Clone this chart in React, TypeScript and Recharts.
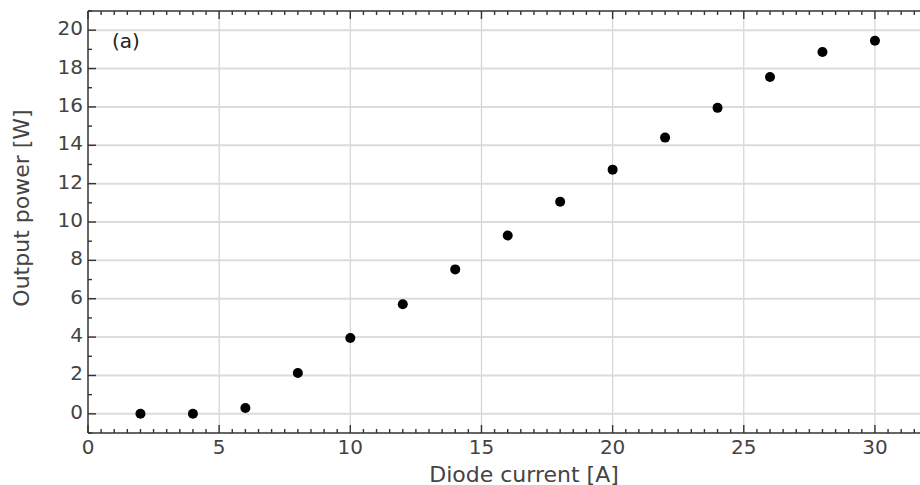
import React from "react";
import { ScatterChart, Scatter, XAxis, YAxis, ReferenceLine } from "recharts";

// diode current [A] vs output power [W]
const current = [2, 4, 6, 8, 10, 12, 14, 16, 18, 20, 22, 24, 26, 28, 30];
const power = [0, 0, 0.3, 2.13, 3.95, 5.71, 7.53, 9.3, 11.06, 12.73, 14.4, 15.95, 17.56, 18.86, 19.45];

const xLabels = [0, 5, 10, 15, 20, 25, 30];
const yLabels = [0, 2, 4, 6, 8, 10, 12, 14, 16, 18, 20];
const xMinorStep = 0.5;
const yMinorStep = 1;

const xTicks = Array.from({ length: 65 }, (_, i) => i * xMinorStep);
const yTicks = Array.from({ length: 23 }, (_, i) => -1 + i * yMinorStep);

const data = current.map((c, i) => ({ current: c, power: power[i] }));

const axisColor = "#333";
const textColor = "#444";
const font = "Verdana, 'DejaVu Sans', sans-serif";

const BottomTick = (props: any) => {
  const { x, y, payload } = props;
  const major = xLabels.includes(payload.value);
  return (
    <g>
      <line x1={x} y1={y} x2={x} y2={y - (major ? 8 : 4)} stroke={axisColor} strokeWidth={1.4} />
      {major && (
        <text x={x} y={y + 21} textAnchor="middle" fill={textColor} fontSize={20} fontFamily={font}>
          {payload.value}
        </text>
      )}
    </g>
  );
};

const TopTick = (props: any) => {
  const { x, y, payload } = props;
  const major = xLabels.includes(payload.value);
  return <line x1={x} y1={y} x2={x} y2={y + (major ? 8 : 4)} stroke={axisColor} strokeWidth={1.4} />;
};

const LeftTick = (props: any) => {
  const { x, y, payload } = props;
  const major = yLabels.includes(payload.value);
  return (
    <g>
      <line x1={x} y1={y} x2={x + (major ? 8 : 4)} y2={y} stroke={axisColor} strokeWidth={1.4} />
      {major && (
        <text x={x - 5} y={y + 5} textAnchor="end" fill={textColor} fontSize={20} fontFamily={font}>
          {payload.value}
        </text>
      )}
    </g>
  );
};

export default function App() {
  return (
    <div style={{ position: "absolute", left: 0, top: 0, width: 920, height: 485, overflow: "hidden", background: "#fff" }}>
      <ScatterChart width={940} height={485} margin={{ top: 10, right: 12.6, bottom: 51, left: 87 }}>
        <XAxis
          type="number"
          dataKey="current"
          domain={[0, 32]}
          ticks={xTicks}
          interval={0}
          height={1}
          tickSize={0}
          tickMargin={0}
          tickLine={false}
          tick={<BottomTick />}
          axisLine={{ stroke: axisColor, strokeWidth: 1.5 }}
          allowDataOverflow
        />
        <XAxis
          xAxisId="top"
          orientation="top"
          type="number"
          dataKey="current"
          domain={[0, 32]}
          ticks={xTicks}
          interval={0}
          height={1}
          tickSize={0}
          tickMargin={0}
          tickLine={false}
          tick={<TopTick />}
          axisLine={{ stroke: axisColor, strokeWidth: 1.5 }}
          allowDataOverflow
        />
        <YAxis
          type="number"
          dataKey="power"
          domain={[-1, 21]}
          ticks={yTicks}
          interval={0}
          width={1}
          tickSize={0}
          tickMargin={0}
          tickLine={false}
          tick={<LeftTick />}
          axisLine={{ stroke: axisColor, strokeWidth: 1.5 }}
          allowDataOverflow
        />
        {xLabels.slice(1).map((v) => (
          <ReferenceLine key={"gx" + v} x={v} stroke="#d4d4d4" strokeWidth={1.2} />
        ))}
        {yLabels.map((v) => (
          <ReferenceLine key={"gy" + v} y={v} stroke="#dcdcdc" strokeWidth={2} />
        ))}
        <Scatter data={data} fill="#000" isAnimationActive={false} shape={(p: any) => <circle cx={p.cx} cy={p.cy} r={5} fill="#000" />} />
        <Scatter data={data} xAxisId="top" fill="none" isAnimationActive={false} shape={() => <g />} />
      </ScatterChart>
      <div style={{ position: "absolute", left: 112, top: 29, fontFamily: font, fontSize: 20, color: "#222", lineHeight: "24px" }}>(a)</div>
      <div
        style={{
          position: "absolute",
          left: 524,
          top: 474,
          transform: "translate(-50%, -50%)",
          fontFamily: font,
          fontSize: 22,
          color: textColor,
          whiteSpace: "nowrap",
        }}
      >
        Diode current [A]
      </div>
      <div
        style={{
          position: "absolute",
          left: 21,
          top: 208,
          transform: "translate(-50%, -50%) rotate(-90deg)",
          fontFamily: font,
          fontSize: 22,
          color: textColor,
          whiteSpace: "nowrap",
        }}
      >
        Output power [W]
      </div>
    </div>
  );
}
